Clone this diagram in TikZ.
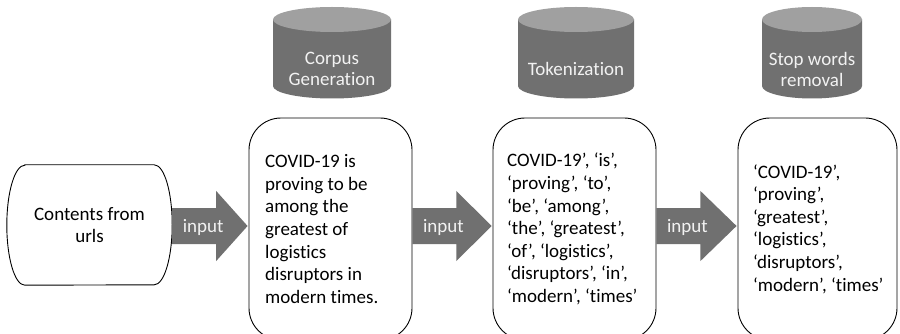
\documentclass[tikz,border=0pt]{standalone}
\usepackage{fontspec}
\setmainfont{Carlito}[Ligatures=NoCommon]
\usetikzlibrary{calc}
\definecolor{shapegray}{RGB}{112,112,112}
\definecolor{topgray}{RGB}{160,160,160}
\definecolor{lighttext}{RGB}{242,242,242}

\newcommand\flowarrow[3]{%
  \fill[arrowfill] let \p1=(#1.east), \p2=(#2.west) in
    (\x1,-208pt) -- (\x1+44pt,-208pt) -- (\x1+44pt,-191pt) -- (\x2-1pt,-226pt)
    -- (\x1+44pt,-261pt) -- (\x1+44pt,-244pt) -- (\x1,-244pt) -- cycle;
  \path let \p1=(#1.east) in node[arrowlabel, anchor=base] (#3) at (\x1+31pt,-233pt) {input};
}
\newcommand\dbcyl[4]{%
  \fill[shapegray] (#2-#3,19.5) -- (#2-#3,86) arc[start angle=180,end angle=0,x radius=#3,y radius=12.5] -- (#2+#3,19.5) -- cycle;
  \fill[topgray] (#2,19.5) ellipse [x radius=#3, y radius=12.5];
  \node[cyllabel] (#1) at (#2,69) {#4};
}

\begin{document}
\begin{tikzpicture}[x=1pt,y=-1pt,
  txt/.style={font=\fontsize{19pt}{22.6pt}\selectfont},
  textbox/.style={draw=black, line width=0.9pt, rounded corners=32pt, fill=white, minimum height=222pt, inner sep=0pt},
  boxtext/.style={txt, align=left, anchor=west, inner sep=0pt},
  cyllabel/.style={font=\fontsize{19pt}{21pt}\selectfont, text=lighttext, align=center, inner sep=0pt},
  arrowlabel/.style={txt, text=lighttext, inner sep=0pt},
  arrowfill/.style={fill=shapegray},
  outline/.style={draw=black, line width=0.9pt},
]
\fill[white] (0,0) rectangle (900,334);
\useasboundingbox (0,0) rectangle (900,334);

% source
\node[txt, align=center, minimum width=165pt, minimum height=120pt, inner sep=0pt] (src) at (89.5,225) {Contents from\\urls};
\draw[outline] ($(src.north west)+(18,0)$) -- ($(src.north east)+(-18,0)$)
  arc[start angle=-90,end angle=90,x radius=18,y radius=60]
  -- ($(src.south west)+(18,0)$)
  arc[start angle=90,end angle=270,x radius=18,y radius=60] -- cycle;

% boxes
\node[textbox, minimum width=163pt] (b2) at (330.5,229) {};
\node[textbox, minimum width=163pt] (b3) at (574.5,229) {};
\node[textbox, minimum width=159pt] (b4) at (817.5,229) {};

\node[boxtext] (t2) at (265,229) {COVID-19 is\\proving to be\\among the\\greatest of\\logistics\\disruptors in\\modern times.};
\node[boxtext] (t3) at (507,229) {COVID-19’, ‘is’,\\‘proving’, ‘to’,\\‘be’, ‘among’,\\‘the’, ‘greatest’,\\‘of’, ‘logistics’,\\‘disruptors’, ‘in’,\\‘modern’, ‘times’};
\node[boxtext] (t4) at (753,229) {‘COVID-19’,\\‘proving’,\\‘greatest’,\\‘logistics’,\\‘disruptors’,\\‘modern’, ‘times’};

% cylinders
\dbcyl{c1}{332}{59}{Corpus\\Generation}
\dbcyl{c2}{576}{58}{Tokenization}
\dbcyl{c3}{812}{50}{Stop words\\removal}

% arrows
\flowarrow{src}{b2}{in1}
\flowarrow{b2}{b3}{in2}
\flowarrow{b3}{b4}{in3}
\end{tikzpicture}
\end{document}
